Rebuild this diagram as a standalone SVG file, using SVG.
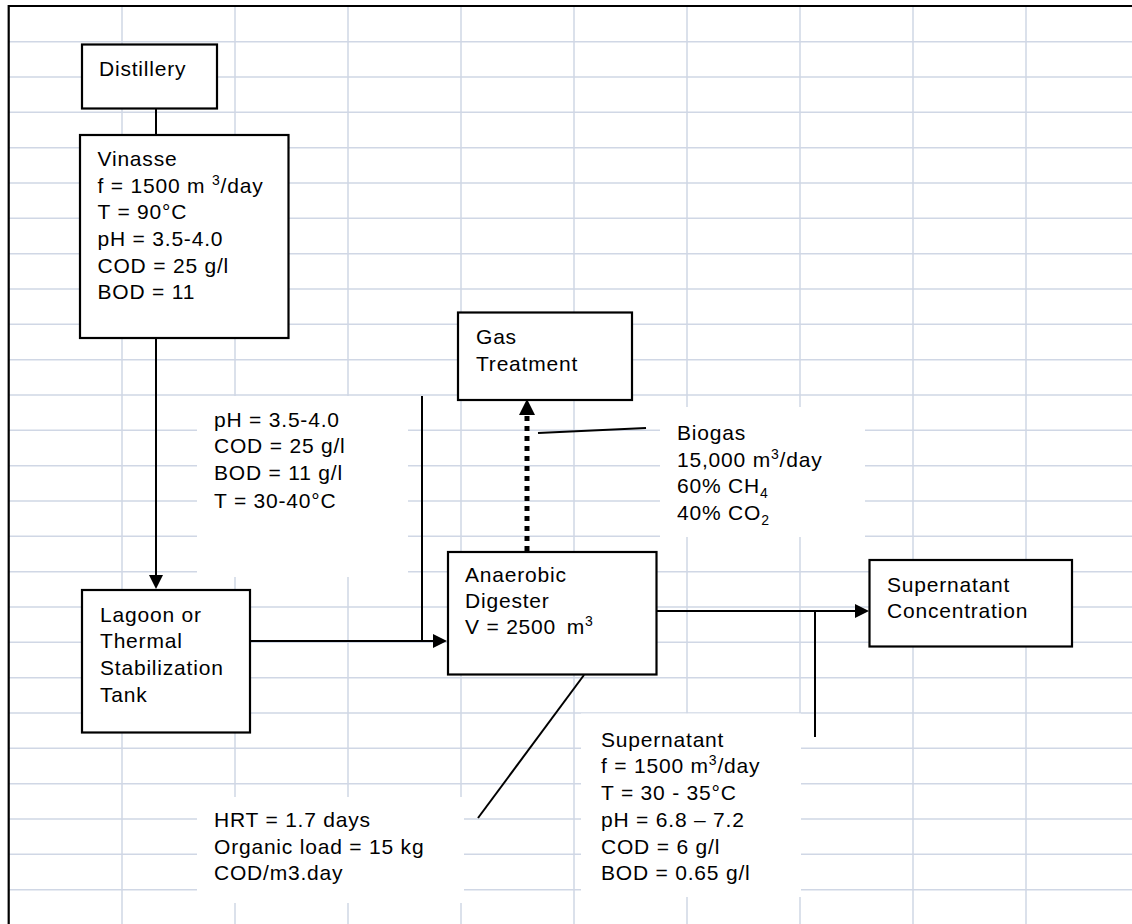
<svg xmlns="http://www.w3.org/2000/svg" width="1132" height="924" viewBox="0 0 1132 924">
<style>
.grid{stroke:#d0d7e5;stroke-width:1.5;fill:none}
.box{fill:#fff;stroke:#000;stroke-width:2.2}
.lbl{fill:#fff;stroke:none}
.t{font-family:"Liberation Sans",Arial,sans-serif;font-size:21px;letter-spacing:0.8px;fill:#000}
.c{stroke:#000;stroke-width:2;fill:none}
.d{stroke:#000;stroke-width:5;stroke-dasharray:5 5;fill:none}
</style>
<defs>
<marker id="ah" viewBox="0 0 14 14" refX="8" refY="7" markerWidth="14" markerHeight="14" orient="auto" markerUnits="userSpaceOnUse"><path d="M0,0 L14,7 L0,14 z" fill="#000"/></marker>
<marker id="ahb" viewBox="0 0 16 16" refX="8" refY="8" markerWidth="16" markerHeight="16" orient="auto" markerUnits="userSpaceOnUse"><path d="M0,0 L16,8 L0,16 z" fill="#000"/></marker>
</defs>
<rect width="1132" height="924" fill="#fff"/>
<path class="grid" d="M9,41.7H1132M9,77H1132M9,112.3H1132M9,147.7H1132M9,183H1132M9,218.3H1132M9,253.7H1132M9,289H1132M9,324.3H1132M9,359.7H1132M9,395H1132M9,430.3H1132M9,465.7H1132M9,501H1132M9,536.3H1132M9,571.7H1132M9,607H1132M9,642.3H1132M9,677.7H1132M9,713H1132M9,748.3H1132M9,783.7H1132M9,819H1132M9,854.3H1132M9,889.7H1132M122,7V924M235,7V924M348,7V924M461,7V924M574,7V924M687,7V924M800,7V924M913,7V924M1026,7V924"/>
<path d="M8.7,924V6H1132" stroke="#000" stroke-width="2.2" fill="none"/>

<g id="label-boxes">
<rect class="lbl" x="197" y="396" width="211" height="181"/>
<rect class="lbl" x="660" y="407" width="205" height="130"/>
<rect class="lbl" x="197" y="797" width="267" height="106"/>
<rect class="lbl" x="581" y="713.5" width="220" height="183.5"/>
</g>

<g id="connectors">
<path class="c" d="M156,108V135"/>
<path class="c" d="M156,338V583" marker-end="url(#ah)"/>
<path class="c" d="M250,641H441" marker-end="url(#ah)"/>
<path class="c" d="M422,396V641"/>
<path class="d" d="M527,551V407" marker-end="url(#ahb)"/>
<path class="c" d="M538,433L646,428"/>
<path class="c" d="M657,611H863" marker-end="url(#ah)"/>
<path class="c" d="M815,611V737"/>
<path class="c" d="M584,675L478,818"/>
</g>

<g id="distillery">
<rect class="box" x="82" y="44.5" width="135" height="64"/>
<text class="t" x="99" y="76">Distillery</text>
</g>

<g id="vinasse">
<rect class="box" x="80" y="135" width="208.5" height="203"/>
<text class="t" x="97.5" y="166">Vinasse</text>
<text class="t" x="97.5" y="192.7">f = 1500 m <tspan dy="-8" font-size="14">3</tspan><tspan dy="8">/day</tspan></text>
<text class="t" x="97.5" y="219.4">T = 90°C</text>
<text class="t" x="97.5" y="246">pH = 3.5-4.0</text>
<text class="t" x="97.5" y="272.7">COD = 25 g/l</text>
<text class="t" x="97.5" y="299.4">BOD = 11</text>
</g>

<g id="lagoon">
<rect class="box" x="82" y="590" width="168" height="142.5"/>
<text class="t" x="100" y="621.7">Lagoon or</text>
<text class="t" x="100" y="648.4">Thermal</text>
<text class="t" x="100" y="675">Stabilization</text>
<text class="t" x="100" y="701.7">Tank</text>
</g>

<g id="gas-treatment">
<rect class="box" x="458" y="312.5" width="174" height="87.5"/>
<text class="t" x="476" y="344">Gas</text>
<text class="t" x="476" y="371">Treatment</text>
</g>

<g id="digester">
<rect class="box" x="448" y="552" width="208.5" height="122.5"/>
<text class="t" x="465" y="582">Anaerobic</text>
<text class="t" x="465" y="608">Digester</text>
<text class="t" x="465" y="634">V = 2500 <tspan dx="4">m</tspan><tspan dy="-8" font-size="14">3</tspan></text>
</g>

<g id="supernatant-concentration">
<rect class="box" x="869.5" y="560" width="202.5" height="86.5"/>
<text class="t" x="887" y="592">Supernatant</text>
<text class="t" x="887" y="618">Concentration</text>
</g>

<g id="label-ph">
<text class="t" x="214" y="426.7">pH = 3.5-4.0</text>
<text class="t" x="214" y="453.4">COD = 25 g/l</text>
<text class="t" x="214" y="480">BOD = 11 g/l</text>
<text class="t" x="214" y="507.5">T = 30-40°C</text>
</g>

<g id="label-biogas">
<text class="t" x="677" y="440">Biogas</text>
<text class="t" x="677" y="466.7">15,000 m<tspan dy="-8" font-size="14">3</tspan><tspan dy="8">/day</tspan></text>
<text class="t" x="677" y="493.3">60% CH<tspan dy="5" font-size="14">4</tspan></text>
<text class="t" x="677" y="520">40% CO<tspan dy="5" font-size="14">2</tspan></text>
</g>

<g id="label-hrt">
<text class="t" x="214" y="827">HRT = 1.7 days</text>
<text class="t" x="214" y="853.5">Organic load = 15 kg</text>
<text class="t" x="214" y="880">COD/m3.day</text>
</g>

<g id="label-supernatant">
<text class="t" x="601" y="746.7">Supernatant</text>
<text class="t" x="601" y="773.4">f = 1500 m<tspan dy="-8" font-size="14">3</tspan><tspan dy="8">/day</tspan></text>
<text class="t" x="601" y="800">T = 30 - 35°C</text>
<text class="t" x="601" y="826.8">pH = 6.8 – 7.2</text>
<text class="t" x="601" y="853.5">COD = 6 g/l</text>
<text class="t" x="601" y="880.2">BOD = 0.65 g/l</text>
</g>
</svg>
